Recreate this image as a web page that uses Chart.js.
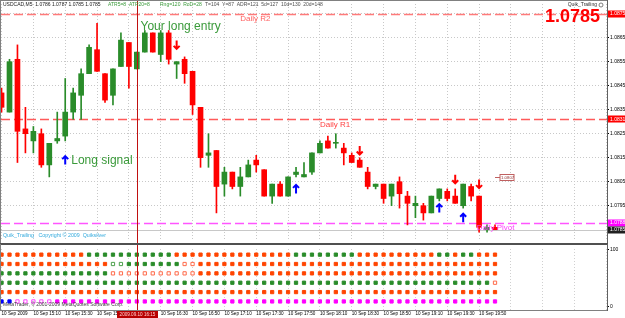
<!DOCTYPE html>
<html>
<head>
<meta charset="utf-8">
<script src="https://cdn.jsdelivr.net/npm/chart.js@4.4.1/dist/chart.umd.min.js"></script>
<style>
  html, body { margin: 0; padding: 0; background: #fff; }
  #wrap { position: relative; width: 625px; height: 318px; overflow: hidden; background: #fff; }
  #mainBox { position: absolute; left: 0; top: 0; width: 625px; height: 244px; }
  #subBox { position: absolute; left: 0; top: 244px; width: 625px; height: 74px; }
</style>
</head>
<body>
<div id="wrap">
  <div id="mainBox"><canvas id="mainChart"></canvas></div>
  <div id="subBox"><canvas id="subChart"></canvas></div>
</div>
<script>
// USDCAD M5 candles, 10 Sep 2009 from 14:50
const opens  = [1.0842, 1.0834, 1.0856, 1.0827, 1.0822, 1.0825, 1.0812, 1.0822, 1.0824, 1.0834, 1.0841, 1.0850, 1.0860, 1.0850, 1.0841, 1.0853, 1.0863, 1.0852, 1.0859, 1.0867, 1.0858, 1.0867, 1.0854, 1.0856, 1.0851, 1.0836, 1.0816, 1.0818, 1.0804, 1.0809, 1.0803, 1.0807, 1.0814, 1.0810, 1.0799, 1.0804, 1.0799, 1.0808, 1.0807, 1.0809, 1.0817, 1.0822, 1.0821, 1.0819, 1.0816, 1.0814, 1.0809, 1.0803, 1.0804, 1.0799, 1.0805, 1.0799, 1.0795, 1.0795, 1.0792, 1.0798, 1.0801, 1.0799, 1.0795, 1.0803, 1.0799, 1.0785, 1.0786];
const highs  = [1.0844, 1.0856, 1.0862, 1.0836, 1.0828, 1.0827, 1.0821, 1.0834, 1.0848, 1.0844, 1.0852, 1.0862, 1.0871, 1.0850, 1.0852, 1.0867, 1.0863, 1.0859, 1.0868, 1.0867, 1.0868, 1.0868, 1.0855, 1.0857, 1.0851, 1.0836, 1.0825, 1.0818, 1.0811, 1.0809, 1.0811, 1.0814, 1.0816, 1.0810, 1.0804, 1.0805, 1.0807, 1.0811, 1.0813, 1.0817, 1.0822, 1.0824, 1.0825, 1.0821, 1.0817, 1.0815, 1.0811, 1.0804, 1.0804, 1.0804, 1.0807, 1.0801, 1.0799, 1.0796, 1.0799, 1.0802, 1.0802, 1.0802, 1.0804, 1.0804, 1.0799, 1.0787, 1.0787];
const lows   = [1.0834, 1.0834, 1.0813, 1.0817, 1.0817, 1.0811, 1.0807, 1.0821, 1.0822, 1.0831, 1.0831, 1.0850, 1.0851, 1.0838, 1.0837, 1.0853, 1.0844, 1.0852, 1.0859, 1.0859, 1.0855, 1.0854, 1.0848, 1.0846, 1.0833, 1.0811, 1.0811, 1.0792, 1.0799, 1.0802, 1.0799, 1.0807, 1.0809, 1.0799, 1.0796, 1.0799, 1.0799, 1.0807, 1.0807, 1.0808, 1.0817, 1.0819, 1.0819, 1.0812, 1.0813, 1.0811, 1.0802, 1.0802, 1.0796, 1.0795, 1.0794, 1.0787, 1.0790, 1.0789, 1.0792, 1.0797, 1.0797, 1.0796, 1.0794, 1.0797, 1.0784, 1.0784, 1.0785];
const closes = [1.0836, 1.0855, 1.0826, 1.0825, 1.0826, 1.0812, 1.0821, 1.0823, 1.0834, 1.0842, 1.0850, 1.0861, 1.0851, 1.0839, 1.0852, 1.0864, 1.0853, 1.0859, 1.0867, 1.0859, 1.0867, 1.0856, 1.0855, 1.0850, 1.0837, 1.0815, 1.0817, 1.0803, 1.0809, 1.0803, 1.0807, 1.0812, 1.0812, 1.0799, 1.0804, 1.0799, 1.0807, 1.0809, 1.0808, 1.0817, 1.0821, 1.0819, 1.0821, 1.0817, 1.0813, 1.0811, 1.0803, 1.0804, 1.0798, 1.0804, 1.0800, 1.0796, 1.0796, 1.0792, 1.0799, 1.0802, 1.0798, 1.0796, 1.0804, 1.0799, 1.0786, 1.0786, 1.0785];

// time axis: one label every 4 bars
const tickLabels = ['10 Sep 2009', '10 Sep 15:10', '10 Sep 15:30', '10 Sep 15:50', '10 Sep 16:10', '10 Sep 16:30', '10 Sep 16:50', '10 Sep 17:10', '10 Sep 17:30', '10 Sep 17:50', '10 Sep 18:10', '10 Sep 18:30', '10 Sep 18:50', '10 Sep 19:10', '10 Sep 19:30', '10 Sep 19:50'];
const priceTicks = [1.0795, 1.0805, 1.0815, 1.0825, 1.0835, 1.0845, 1.0855, 1.0865, 1.0875];

// daily pivot levels
const levelNames  = ['Daily R2', 'Daily R1', 'Daily Pivot'];
const levelValues = [1.0875, 1.0831, 1.0788];

// signal arrows
const arrowIndex = [8, 22, 37, 45, 55, 57, 58, 60];
const arrowPrice = [1.0814, 1.0862, 1.0802, 1.0818, 1.0794, 1.0806, 1.0790, 1.0804];
const arrowDir   = ['up', 'down', 'up', 'down', 'up', 'down', 'up', 'down'];

const entryIndex = 17;
const entryLabel = '2009.09.10 16:15';
const markerPrice = 1.0807;

// Quik_Trailing window, dot rows as runs [count, code]
// O orange, G green, o/g hollow, M magenta, m hollow magenta, B blue
const rowLevels = [91.67, 75, 58.33, 41.67, 25, 8.33];
const rowRuns = [
  [[11, 'O'], [11, 'G'], [15, 'O'], [8, 'G'], [10, 'O'], [2, 'G'], [1, 'O'], [2, 'G'], [3, 'O']],
  [[14, 'O'], [2, 'g'], [7, 'G'], [2, 'o'], [38, 'O']],
  [[14, 'G'], [11, 'o'], [38, 'O']],
  [[62, 'G'], [1, 'o']],
  [[63, 'O']],
  [[2, 'B'], [5, 'm'], [56, 'M']]
];
const rowCodes = rowRuns.map(runs => runs.map(([n, c]) => c.repeat(n)).join(''));

const GREEN = '#2a8c2a';
const RED = '#ff0000';
const FONT = "'Liberation Sans', Arial, sans-serif";
Chart.defaults.font.family = FONT;

// both panels share the same bar spacing (about 7.96 px per bar)
const xMax = 76.07;
const tickIndex = [];
for (let v = 0; v <= 76; v += 4) tickIndex.push(v);

const candleColors = opens.map((o, i) => closes[i] >= o ? GREEN : RED);
const wickData = opens.map((o, i) => ({ x: i, y: [lows[i], highs[i]] }));
const bodyData = opens.map((o, i) => ({ x: i, y: [o, closes[i]] }));

function drawArrow(ctx, px, py, up, color) {
    const d = up ? -1 : 1;
    const tip = py + 4 * d;
    ctx.save();
    ctx.strokeStyle = color;
    ctx.lineWidth = 2;
    ctx.beginPath();
    ctx.moveTo(px, py - 4.5 * d);
    ctx.lineTo(px, tip);
    ctx.moveTo(px - 3, tip - 3 * d);
    ctx.lineTo(px, tip);
    ctx.lineTo(px + 3, tip - 3 * d);
    ctx.stroke();
    ctx.restore();
}

function text(ctx, str, x, y, font, color, align) {
    ctx.font = font;
    ctx.fillStyle = color;
    ctx.textAlign = align || 'left';
    ctx.textBaseline = 'middle';
    ctx.fillText(str, x, y);
}

function axisBox(ctx, x, y, label, bg, fg) {
    ctx.fillStyle = bg;
    ctx.fillRect(x, Math.round(y) - 3.5, 625 - x, 7);
    text(ctx, label, x + 2, y, '5px ' + FONT, fg);
}

const levelColors = ['#ff7a7a', '#ff5a5a', '#ff55ff'];
const levelBoxes = ['#ff0000', '#ff0000', '#ff00ff'];

const mainOverlay = {
    id: 'mainOverlay',
    beforeDatasetsDraw(chart) {
        const { ctx, chartArea: a, scales: { y } } = chart;
        ctx.save();
        levelValues.forEach((v, i) => {
            const py = Math.round(y.getPixelForValue(v)) + 0.5;
            ctx.strokeStyle = levelColors[i];
            ctx.lineWidth = 1.5;
            ctx.setLineDash([9, 4]);
            ctx.beginPath();
            ctx.moveTo(a.left, py);
            ctx.lineTo(a.right, py);
            ctx.stroke();
        });
        ctx.setLineDash([]);
        const bid = Math.round(y.getPixelForValue(closes[closes.length - 1])) + 0.5;
        ctx.strokeStyle = '#c8c8c8';
        ctx.lineWidth = 1;
        ctx.beginPath();
        ctx.moveTo(a.left, bid);
        ctx.lineTo(a.right, bid);
        ctx.stroke();
        ctx.restore();
    },
    afterDatasetsDraw(chart) {
        const { ctx, scales: { x, y } } = chart;
        ctx.save();
        const capIdx = [30, 40, 59.7];
        const capCol = ['#ff6060', '#ff4040', '#ff40ff'];
        levelNames.forEach((n, i) => {
            text(ctx, n, x.getPixelForValue(capIdx[i]), y.getPixelForValue(levelValues[i]) + 5.5, '8px ' + FONT, capCol[i]);
        });
        const ex = Math.round(x.getPixelForValue(entryIndex)) + 0.5;
        ctx.strokeStyle = '#c01010';
        ctx.lineWidth = 1;
        ctx.beginPath();
        ctx.moveTo(ex, 0);
        ctx.lineTo(ex, chart.height);
        ctx.stroke();
        arrowIndex.forEach((k, i) => {
            const up = arrowDir[i] === 'up';
            drawArrow(ctx, x.getPixelForValue(k), y.getPixelForValue(arrowPrice[i]), up, up ? '#0000ff' : '#ff0000');
        });
        text(ctx, 'Your long entry', ex + 3, y.getPixelForValue(1.08695), '12px ' + FONT, '#3a9a3a');
        text(ctx, 'Long signal', x.getPixelForValue(arrowIndex[0]) + 6, y.getPixelForValue(arrowPrice[0]) + 1, '12px ' + FONT, '#3a9a3a');

        // header line
        const n = closes.length - 1;
        text(ctx, 'USDCAD,M5  ' + opens[n].toFixed(4) + ' ' + highs[n].toFixed(4) + ' ' + lows[n].toFixed(4) + ' ' + closes[n].toFixed(4), 3, 5, '5px ' + FONT, '#202020');
        text(ctx, 'ATR5=8  ATR20=8', 108, 5, '5px ' + FONT, '#3a9a3a');
        text(ctx, 'Rng=120  RoD=28', 160, 5, '5px ' + FONT, '#3a9a3a');
        text(ctx, 'T=104  Y=87  ADR=121  5d=127  10d=130  20d=148', 205, 5, '5px ' + FONT, '#505050');
        text(ctx, 'Quik_Trailing', 597, 5, '5px ' + FONT, '#303030', 'right');
        ctx.strokeStyle = '#606060';
        ctx.lineWidth = 0.8;
        ctx.beginPath();
        ctx.arc(601, 5, 2, 0, Math.PI * 2);
        ctx.stroke();
        text(ctx, closes[n].toFixed(4), 600, 17, 'bold 18px ' + FONT, '#ff0000', 'right');
        text(ctx, 'Quik_Trailing   Copyright \u00a9 2009  Quiksilver', 3, 236, '5.3px ' + FONT, '#33aadd');

        // small price marker right of the last bar
        const my = Math.round(y.getPixelForValue(markerPrice)) + 0.5;
        const mx = x.getPixelForValue(n);
        ctx.strokeStyle = '#c06060';
        ctx.lineWidth = 1;
        ctx.beginPath();
        ctx.moveTo(mx, my);
        ctx.lineTo(mx + 5, my);
        ctx.stroke();
        ctx.fillStyle = '#fff';
        ctx.fillRect(mx + 5, my - 3, 14, 6);
        ctx.strokeRect(mx + 5, my - 3, 14, 6);
        text(ctx, markerPrice.toFixed(4), mx + 6, my, '4.3px ' + FONT, '#903030');
        ctx.restore();
    },
    afterDraw(chart) {
        const { ctx, chartArea: a, scales: { y } } = chart;
        ctx.save();
        levelValues.forEach((v, i) => axisBox(ctx, a.right + 1, y.getPixelForValue(v), v.toFixed(4), levelBoxes[i], '#fff'));
        const last = closes[closes.length - 1];
        axisBox(ctx, a.right + 1, y.getPixelForValue(last), last.toFixed(4), '#202020', '#fff');
        ctx.strokeStyle = '#808080';
        ctx.lineWidth = 1;
        ctx.beginPath();
        ctx.moveTo(0.5, 0); ctx.lineTo(0.5, 243);
        ctx.moveTo(0, 0.5); ctx.lineTo(a.right, 0.5);
        ctx.stroke();
        ctx.strokeStyle = '#606060';
        ctx.beginPath();
        ctx.moveTo(a.right + 0.5, 0); ctx.lineTo(a.right + 0.5, 244);
        ctx.stroke();
        ctx.strokeStyle = '#505050';
        ctx.beginPath();
        ctx.moveTo(0, 243.5); ctx.lineTo(a.right + 1, 243.5);
        ctx.stroke();
        ctx.restore();
    }
};

new Chart(document.getElementById('mainChart'), {
    type: 'bar',
    data: {
        datasets: [
            { data: wickData, backgroundColor: candleColors, barThickness: 1, grouped: false, order: 2 },
            { data: bodyData, backgroundColor: candleColors, barThickness: 5, grouped: false, minBarLength: 1, order: 1 }
        ]
    },
    options: {
        responsive: true,
        maintainAspectRatio: false,
        animation: false,
        devicePixelRatio: 1,
        layout: { padding: { top: 1, left: 1, right: 0, bottom: 1 } },
        plugins: { legend: { display: false }, tooltip: { enabled: false } },
        scales: {
            x: {
                type: 'linear', min: -0.068, max: xMax, offset: false,
                grid: { color: '#c8c8c8', drawTicks: false, offset: false },
                border: { display: false, dash: [1, 2] },
                ticks: { display: false },
                afterBuildTicks: s => { s.ticks = tickIndex.map(v => ({ value: v })); },
                afterFit: s => { s.height = 0; }
            },
            y: {
                position: 'right', min: 1.078071, max: 1.087904,
                grid: { color: '#c8c8c8', drawTicks: true, tickLength: 2, tickColor: '#000' },
                border: { display: false, dash: [1, 2] },
                ticks: { font: { size: 5 }, color: '#000', padding: 1, callback: v => v.toFixed(4) },
                afterBuildTicks: s => { s.ticks = priceTicks.map(v => ({ value: v })); },
                afterFit: s => { s.width = 18; }
            }
        }
    },
    plugins: [mainOverlay]
});

const dotFill = { O: '#ff4500', G: GREEN, o: '#ffffff', g: '#ffffff', M: '#ff00ff', m: '#ffffff', B: '#0000ff' };
const dotEdge = { O: '#ff4500', G: GREEN, o: '#ff6a4a', g: '#4ca04c', M: '#ff00ff', m: '#ff40ff', B: '#0000ff' };

const subOverlay = {
    id: 'subOverlay',
    afterDraw(chart) {
        const { ctx, chartArea: a, scales: { x } } = chart;
        ctx.save();
        const ex = Math.round(x.getPixelForValue(entryIndex)) + 0.5;
        ctx.strokeStyle = '#c01010';
        ctx.lineWidth = 1;
        ctx.beginPath();
        ctx.moveTo(ex, 0); ctx.lineTo(ex, a.bottom);
        ctx.stroke();
        text(ctx, 'MetaTrader, \u00a9 2001-2009 MetaQuotes Software Corp.', 3, 61, '5px ' + FONT, '#404040');
        ctx.strokeStyle = '#505050';
        ctx.beginPath();
        ctx.moveTo(0, 0.5); ctx.lineTo(a.right + 1, 0.5);
        ctx.stroke();
        ctx.strokeStyle = '#808080';
        ctx.beginPath();
        ctx.moveTo(0.5, 0); ctx.lineTo(0.5, a.bottom);
        ctx.moveTo(0, a.bottom + 0.5); ctx.lineTo(a.right + 1, a.bottom + 0.5);
        ctx.stroke();
        ctx.strokeStyle = '#606060';
        ctx.beginPath();
        ctx.moveTo(a.right + 0.5, 0); ctx.lineTo(a.right + 0.5, a.bottom + 1);
        ctx.stroke();
        // time stamp of the entry line
        ctx.fillStyle = '#b80000';
        ctx.fillRect(ex - 20.5, a.bottom + 1, 41, 8);
        text(ctx, entryLabel, ex, a.bottom + 4.8, '4.6px ' + FONT, '#ffd0d0', 'center');
        ctx.restore();
    }
};

new Chart(document.getElementById('subChart'), {
    type: 'scatter',
    data: {
        datasets: rowCodes.map((codes, r) => ({
            data: codes.split('').map((c, k) => ({ x: k, y: rowLevels[r] })),
            clip: false,
            pointStyle: 'rect',
            pointRadius: 2.3,
            pointBorderWidth: 1,
            pointBackgroundColor: codes.split('').map(c => dotFill[c]),
            pointBorderColor: codes.split('').map(c => dotEdge[c])
        }))
    },
    options: {
        responsive: true,
        maintainAspectRatio: false,
        animation: false,
        devicePixelRatio: 1,
        layout: { padding: { top: 0, left: 1, right: 0, bottom: 0 } },
        plugins: { legend: { display: false }, tooltip: { enabled: false } },
        scales: {
            x: {
                type: 'linear', min: 0.4347, max: xMax,
                grid: { color: '#d0d0d0', drawTicks: true, tickLength: 1, tickColor: '#000' },
                border: { display: false, dash: [1, 2] },
                ticks: {
                    font: { size: 4.6 }, color: '#000', padding: 0, align: 'start',
                    autoSkip: false, maxRotation: 0, minRotation: 0,
                    callback: v => (v % 4 === 0 && v / 4 < tickLabels.length) ? tickLabels[v / 4] : ''
                },
                afterBuildTicks: s => { s.ticks = tickIndex.map(v => ({ value: v })); },
                afterFit: s => { s.height = 8; }
            },
            y: {
                position: 'right', min: -6.9, max: 101.72,
                grid: { drawOnChartArea: false, drawTicks: true, tickLength: 2, tickColor: '#000' },
                border: { display: false },
                ticks: { font: { size: 5 }, color: '#000', padding: 1 },
                afterBuildTicks: s => { s.ticks = [0, 100].map(v => ({ value: v })); },
                afterFit: s => { s.width = 18; }
            }
        }
    },
    plugins: [subOverlay]
});
</script>
</body>
</html>
